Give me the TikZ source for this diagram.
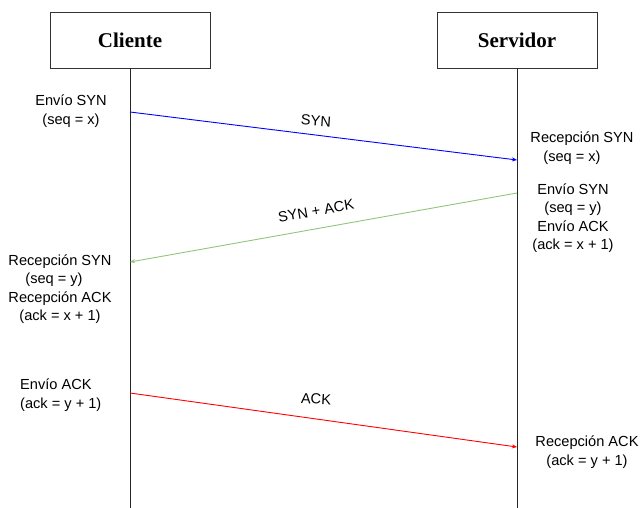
\documentclass[tikz,border=0pt]{standalone}
\usepackage{fontspec}
\setmainfont{Liberation Sans}
\newfontfamily\titlefont{Liberation Serif}
\usetikzlibrary{arrows.meta}
\definecolor{boxline}{HTML}{333333}
\definecolor{synblue}{HTML}{0000FF}
\definecolor{ackgreen}{HTML}{93C47D}
\definecolor{ackred}{HTML}{FF0000}
\tikzset{
  actor/.style={draw=boxline, line width=0.9pt, minimum width=160pt, minimum height=56pt, inner sep=0pt, font=\titlefont\bfseries\fontsize{21}{24}\selectfont},
  lifeline/.style={draw=black!85, line width=0.9pt},
  msg/.style={line width=0.9pt, -{Stealth[length=5pt,width=4pt]}},
  txt/.style={align=center, inner sep=0pt, font=\fontsize{14.6}{18.5}\selectfont},
  lbl/.style={inner sep=0pt, font=\fontsize{14.6}{17}\selectfont}
}
\begin{document}
\begin{tikzpicture}[x=1pt,y=-1pt]
\useasboundingbox (0,0) rectangle (640,508);
\node[actor] (cli) at (130,40) {Cliente};
\node[actor] (srv) at (517,40) {Servidor};
\coordinate (cliend) at (130,508);
\coordinate (srvend) at (517,508);
\draw[lifeline] (cli.south) -- (cliend);
\draw[lifeline] (srv.south) -- (srvend);
% message end points
\coordinate (c1) at (130,112);
\coordinate (s1) at (517,160);
\coordinate (s2) at (517,193);
\coordinate (c2) at (130,262);
\coordinate (c3) at (130,393);
\coordinate (s3) at (517,447);
\draw[msg, synblue] (c1) -- (s1);
\draw[msg, ackgreen] (s2) -- (c2);
\draw[msg, ackred] (c3) -- (s3);
\node[lbl, rotate=-4] (l1) at (316,121) {SYN};
\node[lbl, rotate=10] (l2) at (316,211) {SYN + ACK};
\node[lbl, rotate=-3] (l3) at (316,399) {ACK};
% annotations
\node[txt] (t1) at (71,111) {Envío SYN\\(seq = x)};
\node[txt] (t2) at (582,148) {Recepción SYN\\\hspace*{-20pt}(seq = x)};
\node[txt] (t3) at (573,218) {Envío SYN\\(seq = y)\\Envío ACK\\(ack = x + 1)};
\node[txt] (t4) at (60,289) {Recepción SYN\\\hspace*{-12pt}(seq = y)\\Recepción ACK\\(ack = x + 1)};
\node[txt, align=left, anchor=west] (t5) at (20,395) {Envío ACK\\(ack = y + 1)};
\node[txt] (t6) at (587,452) {Recepción ACK\\(ack = y + 1)};
\end{tikzpicture}
\end{document}
